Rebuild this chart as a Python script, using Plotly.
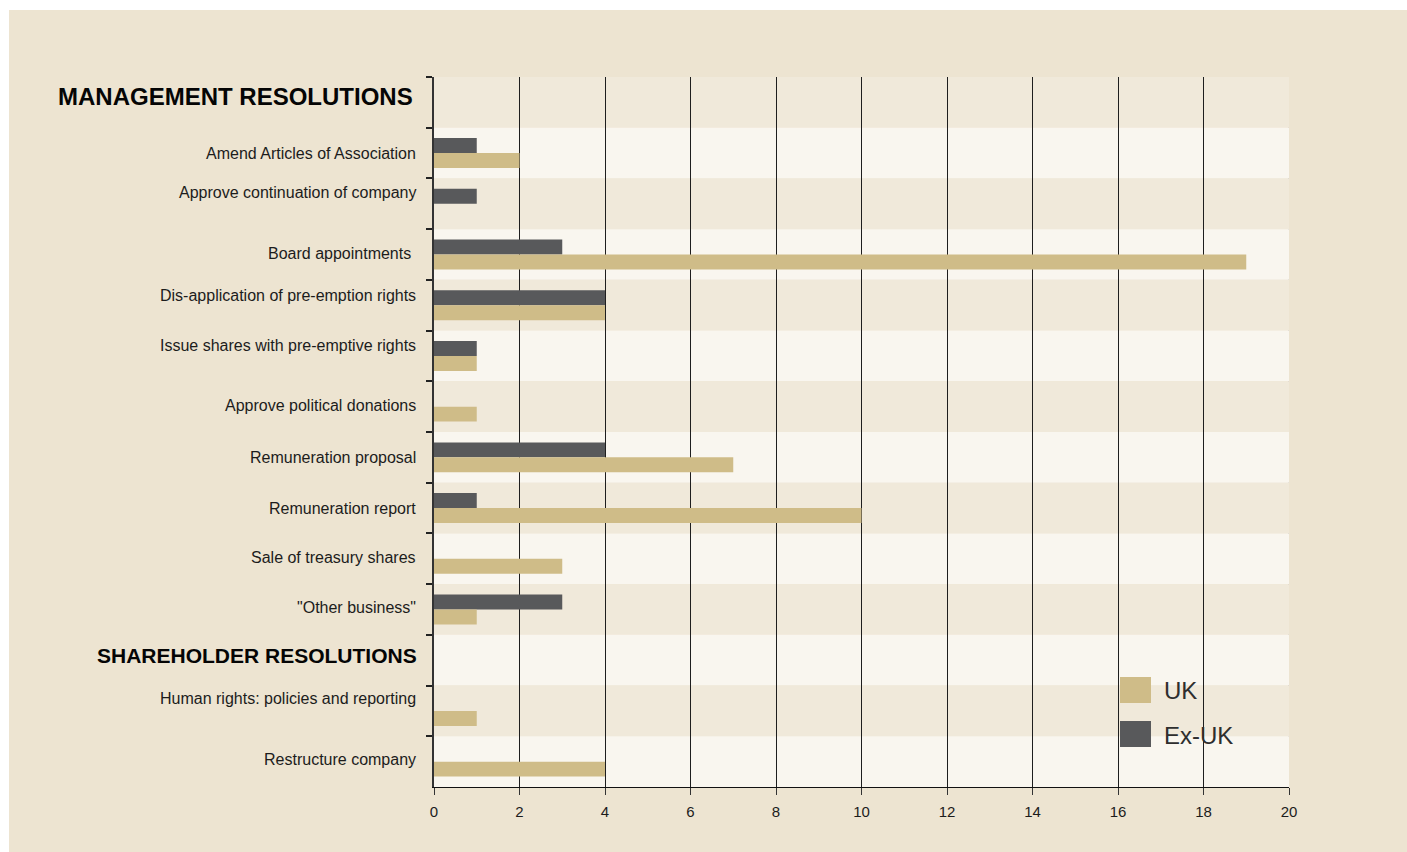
import plotly.graph_objects as go

# ---- data ----
categories = [
    "MANAGEMENT RESOLUTIONS",
    "Amend Articles of Association",
    "Approve continuation of company",
    "Board appointments\u00a0",
    "Dis-application of pre-emption rights",
    "Issue shares with pre-emptive rights",
    "Approve political donations",
    "Remuneration proposal",
    "Remuneration report",
    "Sale of treasury shares",
    "\"Other business\"",
    "SHAREHOLDER RESOLUTIONS",
    "Human rights: policies and reporting",
    "Restructure company",
]
header_rows = ["MANAGEMENT RESOLUTIONS", "SHAREHOLDER RESOLUTIONS"]
uk_values = [None, 2, None, 19, 4, 1, 1, 7, 10, 3, 1, None, 1, 4]
exuk_values = [None, 1, 1, 3, 4, 1, None, 4, 1, None, 3, None, None, None]
x_ticks = [0, 2, 4, 6, 8, 10, 12, 14, 16, 18, 20]

# ---- styling ----
FONT = "Liberation Sans, Arial, Helvetica, sans-serif"
FRAME = "#ede4d1"
BAND_DARK = "#f0e9da"
BAND_LIGHT = "#f9f6ef"
UK_COLOR = "#cfbc88"
EXUK_COLOR = "#58595b"
TEXT_COLOR = "#1c1c1c"
# vertical nudge (px, upward) of each row label, as in the original layout
label_lift = [6, 0, 11, 1, 10, 10, 1, 0, 0, 1, 2, 5, 12, 2]
# right edge (px) of each row label
label_right = [415, 418, 418, 418, 418, 418, 418, 418, 418, 418, 418, 419, 418, 418]
# font size of each row label
label_size = [24, 16, 16, 16, 16, 16, 16, 16, 16, 16, 16, 21, 16, 16]

W, H = 1407, 852
L, R, T, B = 434, 1289, 77, 787


def px_x(p):
    return (p - L) / (R - L)


def px_y(p):
    return (B - p) / (B - T)


fig = go.Figure()
fig.add_trace(go.Bar(
    y=categories, x=exuk_values, name="Ex-UK", orientation="h",
    marker=dict(color=EXUK_COLOR, line=dict(width=0)),
))
fig.add_trace(go.Bar(
    y=categories, x=uk_values, name="UK", orientation="h",
    marker=dict(color=UK_COLOR, line=dict(width=0)),
))

shapes = []
# outer beige frame
shapes.append(dict(type="rect", xref="paper", yref="paper",
                   x0=px_x(9), x1=px_x(W + 5), y0=px_y(10), y1=px_y(H + 5),
                   fillcolor=FRAME, line=dict(width=0), layer="below"))
# alternating bands
for i, c in enumerate(categories):
    shapes.append(dict(type="rect", xref="x", yref="y",
                       x0=0, x1=20, y0=i - 0.5, y1=i + 0.5,
                       fillcolor=BAND_DARK if i % 2 == 0 else BAND_LIGHT,
                       line=dict(width=0), layer="below"))
# right-edge line at 20
shapes.append(dict(type="line", xref="x", yref="paper", x0=20, x1=20, y0=0, y1=1,
                   line=dict(color="#6e6e6e", width=1), layer="below"))
# manual legend squares
shapes.append(dict(type="rect", xref="paper", yref="paper",
                   x0=px_x(1120), x1=px_x(1151), y0=px_y(703), y1=px_y(677),
                   fillcolor=UK_COLOR, line=dict(width=0)))
shapes.append(dict(type="rect", xref="paper", yref="paper",
                   x0=px_x(1120), x1=px_x(1151), y0=px_y(747), y1=px_y(721),
                   fillcolor=EXUK_COLOR, line=dict(width=0)))

annotations = [
    dict(xref="paper", yref="paper", x=px_x(1162), y=px_y(690), text="UK",
         showarrow=False, xanchor="left", yanchor="middle",
         font=dict(family=FONT, size=24, color="#2e2e2e")),
    dict(xref="paper", yref="paper", x=px_x(1162), y=px_y(735), text="Ex-UK",
         showarrow=False, xanchor="left", yanchor="middle",
         font=dict(family=FONT, size=24, color="#2e2e2e")),
]

# row labels
for i, c in enumerate(categories):
    if c in header_rows:
        txt = f"<b>{c}</b>"
        fnt = dict(family=FONT, size=label_size[i], color="#050505")
    else:
        txt = c
        fnt = dict(family=FONT, size=label_size[i], color=TEXT_COLOR)
    annotations.append(dict(
        xref="paper", yref="y", x=px_x(label_right[i]), y=c, text=txt,
        showarrow=False, xanchor="right", yanchor="middle",
        yshift=label_lift[i], font=fnt,
    ))

fig.update_layout(
    width=W, height=H,
    margin=dict(l=L, r=W - R, t=T, b=H - B, pad=0),
    paper_bgcolor="white",
    plot_bgcolor="rgba(0,0,0,0)",
    barmode="group",
    bargap=0.41,
    bargroupgap=0,
    showlegend=False,
    shapes=shapes,
    annotations=annotations,
    font=dict(family=FONT, color=TEXT_COLOR),
    xaxis=dict(
        range=[0, 20], tickvals=x_ticks, ticktext=[str(v) for v in x_ticks],
        showgrid=True, gridcolor="#1e1e1e", gridwidth=1,
        showline=True, linecolor="#111111", linewidth=1,
        ticks="outside", ticklen=7, tickcolor="#333333", tickwidth=1,
        ticklabelstandoff=4,
        tickfont=dict(family=FONT, size=15, color=TEXT_COLOR),
        zeroline=False, fixedrange=True,
    ),
    yaxis=dict(
        type="category", categoryorder="array", categoryarray=categories,
        range=[len(categories) - 0.5, -0.5],
        tickson="boundaries", ticks="outside", ticklen=6,
        tickcolor="#222222", tickwidth=1.5,
        showline=True, linecolor="#333333", linewidth=1.5,
        showgrid=False, zeroline=False,
        showticklabels=False,
        fixedrange=True,
    ),
)

fig.write_html("out.html")
